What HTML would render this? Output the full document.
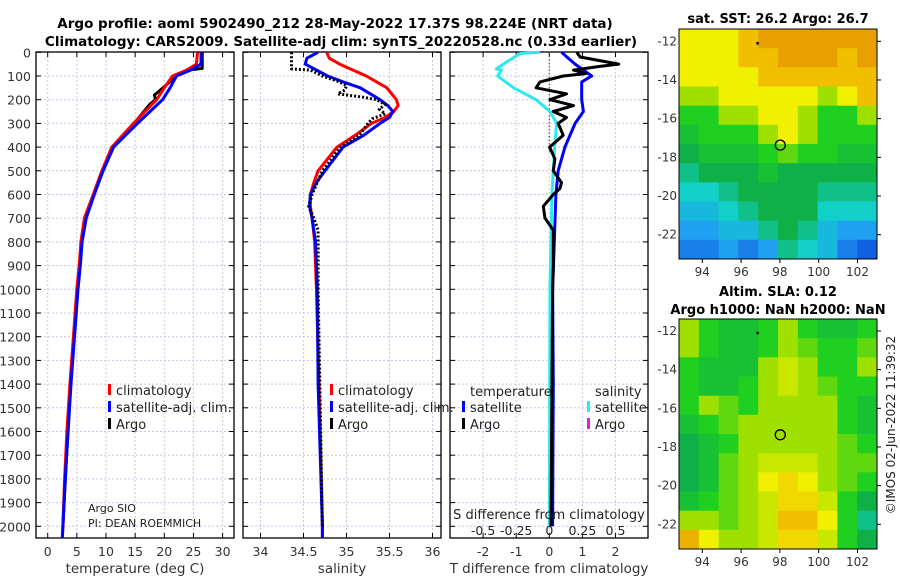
<!DOCTYPE html>
<html><head><meta charset="utf-8"><style>
body{margin:0;background:#fff;}
svg{display:block;font-family:"DejaVu Sans","Liberation Sans",sans-serif;}
</style></head><body>
<svg id="chart" width="900" height="580" viewBox="0 0 900 580" xmlns="http://www.w3.org/2000/svg">
<text x="335" y="28" text-anchor="middle" font-size="13.5" font-weight="bold">Argo profile: aoml 5902490_212 28-May-2022 17.37S 98.224E (NRT data)</text>
<text x="341" y="46" text-anchor="middle" font-size="13.5" font-weight="bold">Climatology: CARS2009. Satellite-adj clim: synTS_20220528.nc (0.33d earlier)</text>
<text x="778" y="23" text-anchor="middle" font-size="13" font-weight="bold">sat. SST: 26.2 Argo: 26.7</text>
<text x="778" y="296" text-anchor="middle" font-size="13" font-weight="bold">Altim. SLA: 0.12</text>
<text x="778" y="314" text-anchor="middle" font-size="13" font-weight="bold">Argo h1000: NaN h2000: NaN</text>
<text transform="translate(895,425) rotate(-90)" text-anchor="middle" font-size="12" fill="#222">©IMOS 02-Jun-2022 11:39:32</text>
<g id="plots"></g>
</svg>
<script>
// ---- profile data ----
const depthsTClim = [0,50,75,100,150,200,300,400,500,600,700,800,900,1000,1200,1400,1600,1800,2000,2050];
const tempClim    = [25.7,25.5,23.8,21.4,20.0,18.7,14.7,11.0,9.3,7.8,6.3,5.7,5.4,5.0,4.4,3.8,3.3,2.9,2.6,2.5];
const tempSat     = [26.3,26.3,24.5,22.1,21.0,19.7,15.4,11.3,9.5,8.0,6.6,5.9,5.6,5.2,4.6,4.0,3.5,3.0,2.6,2.5];
const depthsTArgo = [0,68,75,100,150,180,200,220,300,400,500,600,700,800,1000,1400,2000];
const tempArgo    = [26.5,26.5,24.0,22.0,19.8,18.3,18.5,17.5,14.8,11.2,9.4,7.9,6.4,5.8,5.1,3.9,2.6];

const depthsS  = [0,25,50,100,125,150,200,225,250,275,300,350,400,500,550,600,650,700,800,1000,1400,2000,2050];
const salClim  = [34.77,34.8,34.92,35.23,35.35,35.47,35.58,35.6,35.55,35.45,35.29,35.1,34.89,34.67,34.62,34.58,34.58,34.6,34.63,34.65,34.68,34.72,34.72];
const salSat   = [34.67,34.54,34.52,34.78,34.96,35.16,35.39,35.48,35.54,35.5,35.39,35.2,34.96,34.75,34.65,34.58,34.57,34.6,34.64,34.66,34.67,34.72,34.72];
const depthsSArgo = [0,70,75,100,125,140,160,175,190,200,220,240,260,280,300,350,400,500,600,650,700,750,800,1000,2000];
const salArgo     = [34.36,34.36,34.58,34.72,34.92,35.0,34.98,34.9,35.2,35.35,35.45,35.38,35.45,35.3,35.25,35.15,34.93,34.72,34.6,34.56,34.62,34.67,34.67,34.67,34.72];

const depthsDT = [0,50,100,125,200,250,300,400,500,600,800,1000,1400,2000];
const dTSat    = [0.37,0.78,1.28,0.98,0.98,1.03,0.78,0.47,0.27,0.2,0.15,0.1,0.12,0.1];
const depthsDS = [0,5,40,70,75,100,150,200,250,300,400,600,1000,2000];
const dSSat    = [-0.07,-0.22,-0.32,-0.4,-0.36,-0.39,-0.27,-0.1,0.005,0.056,0.04,0.02,0.005,0.0];
const depthsDTArgo = [0,20,50,60,75,90,100,125,150,175,200,225,250,275,300,350,400,450,500,550,575,600,650,700,750,900,1000,2000];
const dTArgo       = [0.83,0.93,2.1,1.5,0.73,1.1,0.42,-0.28,-0.4,0.52,0.02,0.73,0.12,0.52,0.27,0.42,0.01,0.17,0.12,0.37,0.32,0.12,-0.18,-0.13,0.12,0.12,0.1,0.05];

const yTicks = [0,100,200,300,400,500,600,700,800,900,1000,1100,1200,1300,1400,1500,1600,1700,1800,1900,2000];
const tTicks = [0,5,10,15,20,25,30];
const sTicks = [34,34.5,35,35.5,36];
const sTickLabels = ['34','34.5','35','35.5','36'];
const dTTicks = [-2,-1,0,1,2];
const dSTicks = [-0.5,-0.25,0,0.25,0.5];
const dSTickLabels = ['-0.5','-0.25','0','0.25','0.5'];

// ---- map data (rows north->south, cols west->east), colour index 0..10 ----
const sstGrid = [
[7,7,7,8,9,9,9,9,9,9],[7,7,7,8,8,9,9,9,8,9],[7,7,7,7,8,8,8,8,8,8],[6,6,7,7,7,7,7,6,7,8],
[5,5,6,6,7,7,6,5,5,6],[4.5,5,5,5,6,7,6,5,5,5],[4,4.5,4.5,4.5,5,5.5,5,5,4.5,4.5],[3.5,4,4,4,4.5,4,4,4,4,4],
[3,3,3.5,4,4,4,4,3.5,3.5,3.5],[2.5,2.5,3,3.5,4,4,4,3,3,3],[2,2,2.5,2.5,3.5,4,3.5,2.5,2,2],[1.5,1.5,2,1.5,2,3.5,3,2.5,1.5,1]];
const slaGrid = [
[6,5,4.5,4.5,5,6,5,4.5,4.5,5],[6,5,4.5,4.5,5,6,5.5,5,5,5.5],[5,4.5,4.5,4.5,6,6.5,6,5,5,6],[5,4.5,4.5,5,6,6.5,6,5.5,5,5],
[5,6,5.5,5,6,6,6,6,5,4.5],[4.5,5,5.5,6,6,6,6,6,5,4.5],[4,4.5,5,6,6,6,6,6,5.5,5],[4,4.5,5.5,6,6.5,6.5,6.5,6,5.5,5.5],
[4,4.5,5.5,6,7,7.5,7,6,5.5,5],[4.5,5,5.5,6,6.5,7.5,7.5,6.5,5,4],[6,6,5.5,6,6.5,8,8,7,5,3.5],[8.5,7,6,6,6.5,7.5,7.5,6.5,5,4]];
const lonTicks = [94,96,98,100,102];
const latTicks = [-12,-14,-16,-18,-20,-22];
const argoLon = 98.224, argoLat = -17.37;

const NS='http://www.w3.org/2000/svg';
const root=document.getElementById('plots');
function el(tag,attrs,parent){const e=document.createElementNS(NS,tag);for(const k in attrs)e.setAttribute(k,attrs[k]);(parent||root).appendChild(e);return e;}
const Y0=52.3, YS=0.2370;
const yScale=d=>Y0+d*YS;
const TOP=52, BOT=538;

function panel(left,right,xs,ticks,labels,title,name){
  const g=el('g',{});
  
  
  for(const d of yTicks){el('line',{x1:left,x2:right,y1:yScale(d),y2:yScale(d),stroke:'#c4c8e4','stroke-width':1,'stroke-dasharray':'2,2'},g);
    el('line',{x1:left,x2:left+5,y1:yScale(d),y2:yScale(d),stroke:'#000'},g);el('line',{x1:right-5,x2:right,y1:yScale(d),y2:yScale(d),stroke:'#000'},g);}
  ticks.forEach((t,i)=>{const x=xs(t);
    el('line',{x1:x,x2:x,y1:TOP,y2:BOT,stroke:'#d0c8d8','stroke-width':1,'stroke-dasharray':'2,2'},g);
    el('line',{x1:x,x2:x,y1:BOT-5,y2:BOT,stroke:'#000'},g);el('line',{x1:x,x2:x,y1:TOP,y2:TOP+5,stroke:'#000'},g);
    const tx=el('text',{x:x,y:556,'text-anchor':'middle','font-size':12.5,fill:'#333'},g);tx.textContent=labels?labels[i]:String(t);
    
    });
  el('rect',{x:left,y:TOP,width:right-left,height:BOT-TOP,fill:'none',stroke:'#000','stroke-width':1.3},g);
  const at=el('text',{x:(left+right)/2,y:573,'text-anchor':'middle','font-size':13.5,fill:'#333'},g);at.textContent=title;
  
  
  return g;
}
function line(g,depths,vals,xs,color,w,dash,name){
  const pts=depths.map((d,i)=>xs(vals[i]).toFixed(1)+','+yScale(d).toFixed(1)).join(' ');
  const p=el('polyline',{points:pts,fill:'none',stroke:color,'stroke-width':w,'stroke-linejoin':'round'},g);
  if(dash)p.setAttribute('stroke-dasharray',dash);
  
  
}
function legend(g,items,x,y0){
  items.forEach((it,i)=>{const y=y0+i*17;
    el('rect',{x:x,y:y-7,width:3,height:11,fill:it[0]},g);
    const t=el('text',{x:x+8,y:y+4,'font-size':13,fill:'#222'},g);t.textContent=it[1];
    
    });
}
for(const d of yTicks){const t=el('text',{x:31,y:yScale(d)+5,'text-anchor':'end','font-size':12.5,fill:'#333'});t.textContent=d;
  
  }

// panel 1 temperature
const xT=t=>47.7+t*5.83;
const g1=panel(36,234,xT,tTicks,null,'temperature (deg C)','temperature-panel');
line(g1,depthsTArgo,tempArgo,xT,'#000',3,null,'temp-argo-line');
line(g1,depthsTClim,tempClim,xT,'#f00',3,null,'temp-climatology-line');
line(g1,depthsTClim,tempSat,xT,'#00f',3,null,'temp-satellite-line');
legend(g1,[['#f00','climatology'],['#00f','satellite-adj. clim.'],['#000','Argo']],108,391);
let t1=el('text',{x:88,y:512,'font-size':11,fill:'#222'},g1);t1.textContent='Argo SIO';


let t2=el('text',{x:88,y:527,'font-size':11,fill:'#222'},g1);t2.textContent='PI: DEAN ROEMMICH';



// panel 2 salinity
const xS=s=>260.5+(s-34)*86;
const g2=panel(243,441,xS,sTicks,sTickLabels,'salinity','salinity-panel');
line(g2,depthsS,salClim,xS,'#f00',3,null,'sal-climatology-line');
line(g2,depthsS,salSat,xS,'#00f',3,null,'sal-satellite-line');
line(g2,depthsSArgo,salArgo,xS,'#000',3,'2,2','sal-argo-line');
legend(g2,[['#f00','climatology'],['#00f','satellite-adj. clim.'],['#000','Argo']],330,391);

// panel 3 differences
const xD=v=>549.3+v*33.1;
const xDS=v=>549.3+v*132.4;
const g3=panel(450,648,xD,dTTicks,null,'T difference from climatology','difference-panel');
el('line',{x1:549.3,x2:549.3,y1:TOP,y2:yScale(420),stroke:'#556040','stroke-width':1.2,'stroke-dasharray':'1.5,2'},g3);
line(g3,depthsDS,dSSat,xDS,'#2ee8f0',3,null,'sdiff-satellite-line');
line(g3,depthsDT,dTSat,xD,'#00f',3,null,'tdiff-satellite-line');
line(g3,depthsDTArgo,dTArgo,xD,'#000',3,null,'tdiff-argo-line');
let tt=el('text',{x:470,y:396,'font-size':13,fill:'#222'},g3);tt.textContent='temperature';


let ts=el('text',{x:595,y:396,'font-size':13,fill:'#222'},g3);ts.textContent='salinity';


legend(g3,[['#00f','satellite'],['#000','Argo']],462,408);
legend(g3,[['#2ee8f0','satellite'],['#e020e0','Argo']],587,408);
let sd=el('text',{x:549,y:519,'text-anchor':'middle','font-size':13,fill:'#222'},g3);sd.textContent='S difference from climatology';


dSTicks.forEach((v,i)=>{const t=el('text',{x:xDS(v),y:535,'text-anchor':'middle','font-size':12.5,fill:'#222'},g3);t.textContent=dSTickLabels[i];
  
  });

// maps
const cmap=['#0028b0','#1060e0','#20a0f0','#10d0c8','#10b048','#20d020','#a0e000','#f0f000','#f0c000','#e8a000','#e08000'];
function colorOf(v){const i=Math.max(0,Math.min(10,Math.round(v*2)/2));const lo=Math.floor(i),hi=Math.ceil(i);
  if(lo===hi)return cmap[lo];
  const a=cmap[lo],b=cmap[hi];const m=(h,k)=>Math.round((parseInt(h.substr(k,2),16)+parseInt(b.substr(k,2),16))/2).toString(16).padStart(2,'0');
  return '#'+m(a,1)+m(a,3)+m(a,5);}
function map(grid,left,top,right,bottom,lat12y,lat22y,name){
  const g=el('g',{});
  
  
  const s=(lat22y-lat12y)/10;
  const lx=lon=>702.3+(lon-94)*19.4;
  const ly=lat=>lat12y+(-12-lat)*s;
  const lonMin=94-(702.3-left)/19.4, lonMax=94+(right-702.3)/19.4;
  const latTop=-12+(lat12y-top)/s, latBot=-12-(bottom-lat12y)/s;
  const rows=grid.length, cols=grid[0].length;
  for(let r=0;r<rows;r++)for(let c=0;c<cols;c++){
    const x0=lx(lonMin+(lonMax-lonMin)*c/cols), x1=lx(lonMin+(lonMax-lonMin)*(c+1)/cols);
    const y0=ly(latTop+(latBot-latTop)*r/rows), y1=ly(latTop+(latBot-latTop)*(r+1)/rows);
    const cell=el('rect',{x:x0.toFixed(1),y:y0.toFixed(1),width:(x1-x0+(c<cols-1?0.6:0)).toFixed(1),height:(y1-y0+(r<rows-1?0.6:0)).toFixed(1),fill:colorOf(grid[r][c])},g);
    
    
  }
  el('rect',{x:left,y:top,width:right-left,height:bottom-top,fill:'none',stroke:'#000','stroke-width':1},g);
  lonTicks.forEach(l=>{const x=lx(l);el('line',{x1:x,x2:x,y1:bottom,y2:bottom+4,stroke:'#000'},g);
    const t=el('text',{x:x,y:bottom+17,'text-anchor':'middle','font-size':12,fill:'#333'},g);t.textContent=l;
    
    });
  latTicks.forEach(l=>{const y=ly(l);el('line',{x1:right,x2:right+4,y1:y,y2:y,stroke:'#000'},g);
    const t=el('text',{x:left-2,y:y+4,'text-anchor':'end','font-size':12,fill:'#333'},g);t.textContent=l;
    
    });
  el('rect',{x:lx(96.85)-1.2,y:ly(-12.1)-1.2,width:2.5,height:2.5,fill:'#000'},g);
  const m=el('circle',{cx:lx(argoLon)-4,cy:ly(argoLat),r:5,fill:'none',stroke:'#000','stroke-width':1.3},g);
  
  
}
map(sstGrid,679,29,877,259,41.3,234.7,'sst-map');
map(slaGrid,679,319,877,549,331,524.3,'sla-map');
</script>
</body></html>
